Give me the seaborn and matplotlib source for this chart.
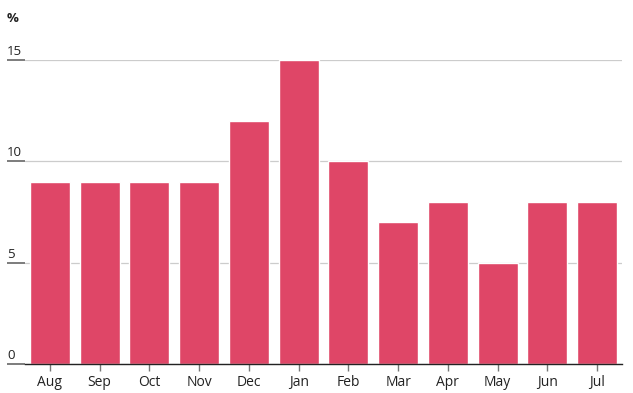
import pandas as pd
import seaborn as sns
from matplotlib import pyplot as plt
from matplotlib.transforms import ScaledTranslation

months = ["Aug", "Sep", "Oct", "Nov", "Dec", "Jan", "Feb", "Mar", "Apr", "May", "Jun", "Jul"]
share = [9, 9, 9, 9, 12, 15, 10, 7, 8, 5, 8, 8]
yticks = [0, 5, 10, 15]

df = pd.DataFrame({"month": months, "share": share})

sns.set_style("white")
plt.rcParams["font.family"] = ["Open Sans", "DejaVu Sans"]

fig = plt.figure(figsize=(6.33, 3.93), dpi=100)
ax = fig.add_axes([25 / 633, 29 / 393, 597 / 633, 304 / 393])

sns.barplot(data=df, x="month", y="share", color="#DF4667", saturation=1,
            width=0.8, ax=ax)

ax.set_ylim(0, 15)
ax.set_xlim(-0.5, len(months) - 0.5)
ax.set_xlabel("")
ax.set_ylabel("")
for s in ["top", "right", "left"]:
    ax.spines[s].set_visible(False)
ax.spines["bottom"].set_color("#222222")
ax.spines["bottom"].set_linewidth(1.0)

ax.set_yticks(yticks)
ax.set_yticklabels([str(v) for v in yticks])
ax.yaxis.grid(True, color="#cccccc", linewidth=0.9)
ax.set_axisbelow(True)
ax.tick_params(axis="y", left=True, length=13, width=1.2, color="#666666",
               pad=0, labelsize=9.5, labelcolor="#222222")
off = ScaledTranslation(0, 2 / 100, fig.dpi_scale_trans)
for lab in ax.get_yticklabels():
    lab.set_horizontalalignment("left")
    lab.set_verticalalignment("bottom")
    lab.set_transform(lab.get_transform() + off)

ax.tick_params(axis="x", bottom=True, length=5, width=1, color="#777777",
               pad=3, labelsize=10, labelcolor="#222222")

fig.text(7 / 633, 1 - 18 / 393, "%", fontsize=9.5, fontweight="bold",
         color="#222222", ha="left", va="center")

fig.savefig("out.png", dpi=100)
